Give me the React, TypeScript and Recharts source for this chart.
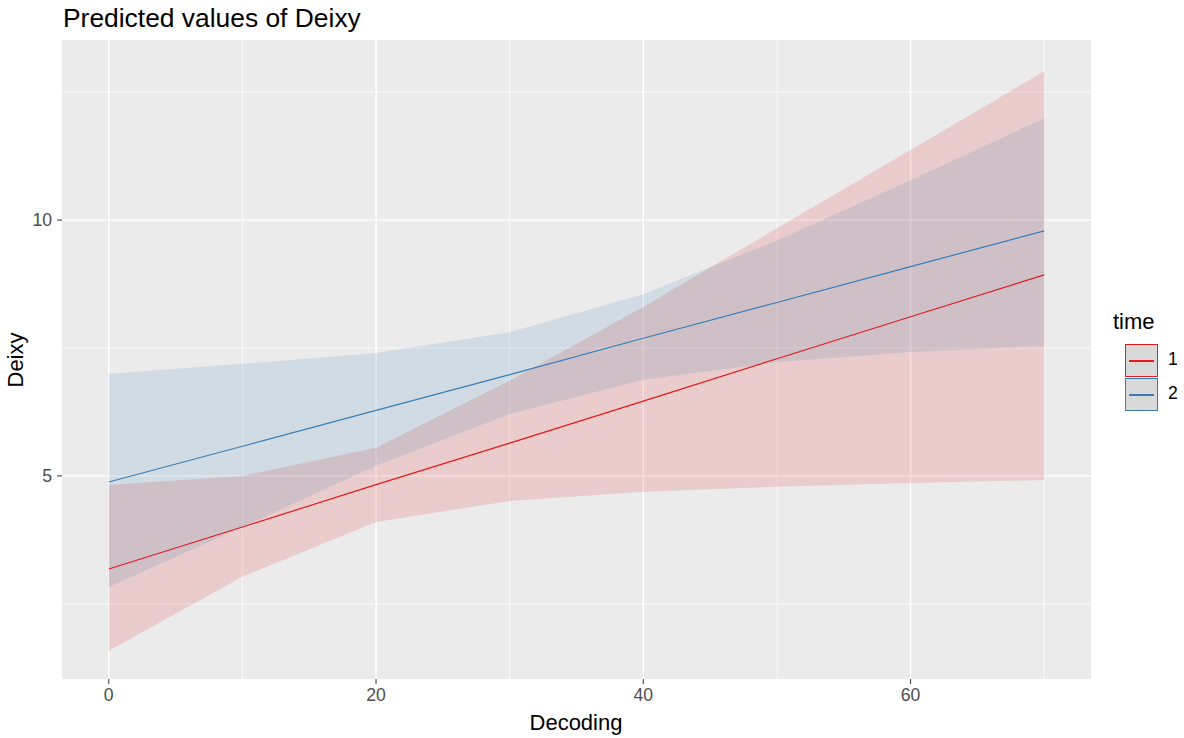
import * as React from "react"
import { ComposedChart, Area, Line, XAxis, YAxis, CartesianGrid } from "recharts"

// decoding values where the predictions were computed
const decoding = [0, 10, 20, 30, 40, 50, 60, 70]

// time 1
const fit1 = [3.18, 4.0, 4.83, 5.64, 6.46, 7.29, 8.11, 8.93]
const low1 = [1.58, 3.03, 4.1, 4.51, 4.69, 4.79, 4.86, 4.92]
const high1 = [4.82, 5.0, 5.55, 6.86, 8.3, 9.84, 11.37, 12.91]

// time 2
const fit2 = [4.88, 5.58, 6.28, 6.98, 7.69, 8.39, 9.09, 9.79]
const low2 = [2.83, 4.0, 5.2, 6.21, 6.88, 7.22, 7.42, 7.54]
const high2 = [6.99, 7.19, 7.4, 7.81, 8.55, 9.6, 10.78, 11.99]

const xTicks = [0, 20, 40, 60]
const xMinor = [10, 30, 50, 70]
const yTicks = [5, 10]
const yMinor = [2.5, 7.5, 12.5]

const RED = "#E41A1C"
const BLUE = "#377EB8"
const FONT = "'Liberation Sans', Arial, sans-serif"

const data = decoding.map((x, i) => ({
  x,
  fit1: fit1[i],
  band1: [low1[i], high1[i]],
  fit2: fit2[i],
  band2: [low2[i], high2[i]],
}))

const tickStyle = { fill: "#4D4D4D", fontSize: 17.6, fontFamily: FONT }

function LegendKey({ color, label, top }: { color: string; label: string; top: number }) {
  return (
    <>
      <div
        style={{
          position: "absolute",
          left: 1125,
          top,
          width: 31,
          height: 31,
          border: `1.5px solid ${color}`,
          background: "#D9D9D9",
        }}
      >
        <div style={{ position: "absolute", left: 3, right: 3, top: 15, height: 1.5, background: color }} />
      </div>
      <div style={{ position: "absolute", left: 1168, top: top + 5, fontSize: 17.6, color: "#000", fontFamily: FONT }}>
        {label}
      </div>
    </>
  )
}

export default function App() {
  return (
    <div style={{ position: "absolute", left: 0, top: 0, width: 1184, height: 738, background: "#fff", fontFamily: FONT }}>
      <ComposedChart
        width={1184}
        height={738}
        data={data}
        margin={{ top: 40, right: 93, left: 0, bottom: 0 }}
      >
        <CartesianGrid
          fill="#EBEBEB"
          stroke="#FFFFFF"
          strokeWidth={0.7}
          verticalValues={xMinor}
          horizontalValues={yMinor}
        />
        <CartesianGrid
          stroke="#FFFFFF"
          strokeWidth={1.4}
          verticalValues={xTicks}
          horizontalValues={yTicks}
        />
        <XAxis
          dataKey="x"
          type="number"
          domain={[-3.5, 73.5]}
          ticks={xTicks}
          allowDataOverflow
          height={59}
          axisLine={false}
          tickSize={5}
          tickMargin={5}
          tickLine={{ stroke: "#333333" }}
          tick={tickStyle}
        />
        <YAxis
          type="number"
          domain={[1.03, 13.52]}
          ticks={yTicks}
          allowDataOverflow
          width={62}
          axisLine={false}
          tickSize={5}
          tickMargin={5}
          tickLine={{ stroke: "#333333" }}
          tick={tickStyle}
        />
        <Area
          dataKey="band1"
          type="linear"
          stroke="none"
          fill={RED}
          fillOpacity={0.15}
          isAnimationActive={false}
        />
        <Area
          dataKey="band2"
          type="linear"
          stroke="none"
          fill={BLUE}
          fillOpacity={0.15}
          isAnimationActive={false}
        />
        <Line dataKey="fit1" type="linear" stroke={RED} strokeWidth={1.2} dot={false} isAnimationActive={false} />
        <Line dataKey="fit2" type="linear" stroke={BLUE} strokeWidth={1.2} dot={false} isAnimationActive={false} />
        <text x={63} y={27} fontSize={26.4} fontFamily={FONT} fill="#000">
          Predicted values of Deixy
        </text>
        <text x={576} y={730} textAnchor="middle" fontSize={22} fontFamily={FONT} fill="#000">
          Decoding
        </text>
        <text
          x={23}
          y={360}
          textAnchor="middle"
          fontSize={22}
          fontFamily={FONT}
          fill="#000"
          transform="rotate(-90 23 360)"
        >
          Deixy
        </text>
      </ComposedChart>
      <div style={{ position: "absolute", left: 1113, top: 309, fontSize: 22, color: "#000", fontFamily: FONT }}>time</div>
      <LegendKey color={RED} label="1" top={344} />
      <LegendKey color={BLUE} label="2" top={378} />
    </div>
  )
}
